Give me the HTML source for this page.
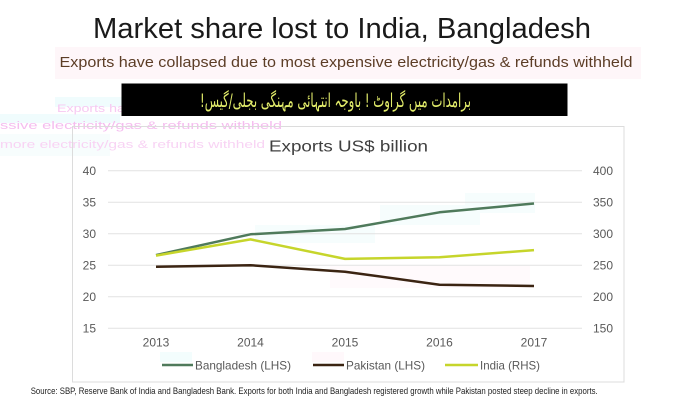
<!DOCTYPE html>
<html>
<head>
<meta charset="utf-8">
<style>
html,body{margin:0;padding:0;background:#fff;}
svg{display:block;}
text{font-family:"Liberation Sans",sans-serif;}
</style>
</head>
<body>
<svg width="700" height="400" viewBox="0 0 700 400" xmlns="http://www.w3.org/2000/svg">
<rect x="0" y="0" width="700" height="400" fill="#fff"/>

<!-- Title -->
<text x="93" y="38" font-size="29" fill="#1a1a1a" textLength="498" lengthAdjust="spacingAndGlyphs">Market share lost to India, Bangladesh</text>

<!-- subtitle band -->
<rect x="55" y="47" width="586" height="32" fill="#fef6f9"/>
<text x="59.5" y="67" font-size="15" fill="#5c3d26" textLength="573" lengthAdjust="spacingAndGlyphs">Exports have collapsed due to most expensive electricity/gas &amp; refunds withheld</text>

<!-- ghost artifacts -->
<rect x="55" y="97" width="70" height="10" fill="#f0fcfd"/>
<rect x="0" y="114" width="120" height="9" fill="#f0fcfd"/>
<rect x="0" y="134" width="110" height="22" fill="#f7fdfd"/>
<text x="57" y="112" font-size="11" fill="#f7c9f2" textLength="225" lengthAdjust="spacingAndGlyphs">Exports have collapsed due to most</text>
<text x="0" y="129" font-size="11" fill="#f5bdef" textLength="282" lengthAdjust="spacingAndGlyphs">ssive electricity/gas &amp; refunds withheld</text>
<text x="0" y="148" font-size="11" fill="#f8d3f4" textLength="265" lengthAdjust="spacingAndGlyphs">more electricity/gas &amp; refunds withheld</text>

<!-- Black Urdu box -->
<rect x="121.5" y="83.5" width="446" height="32.5" fill="#000"/>
<text x="335.5" y="107" font-size="19" fill="#e2ec6a" text-anchor="middle" direction="rtl" textLength="271" lengthAdjust="spacingAndGlyphs" style="font-family:'DejaVu Sans',sans-serif">برامدات میں گراوٹ ! باوجہ انتہائی مہنگی بجلی/گیس!</text>

<!-- Chart box -->
<rect x="72.5" y="126.5" width="551.5" height="255.5" fill="none" stroke="#dcdcdc" stroke-width="1"/>

<!-- faint highlight blobs -->
<rect x="255" y="225" width="120" height="18" fill="#f6fdfd"/>
<rect x="380" y="205" width="100" height="20" fill="#f6fdfd"/>
<rect x="465" y="193" width="70" height="20" fill="#f6fdfd"/>
<rect x="330" y="266" width="200" height="22" fill="#fffafc"/>

<!-- Chart title -->
<text x="269" y="151.7" font-size="16" fill="#404040" textLength="159" lengthAdjust="spacingAndGlyphs">Exports US$ billion</text>

<!-- Gridlines -->
<g stroke="#e2e2e2" stroke-width="1">
<line x1="108" y1="170.7" x2="582" y2="170.7"/>
<line x1="108" y1="202.2" x2="582" y2="202.2"/>
<line x1="108" y1="233.7" x2="582" y2="233.7"/>
<line x1="108" y1="265.2" x2="582" y2="265.2"/>
<line x1="108" y1="296.7" x2="582" y2="296.7"/>
<line x1="108" y1="328.2" x2="582" y2="328.2"/>
</g>

<!-- Left axis labels -->
<g font-size="12" fill="#595959" text-anchor="end">
<text x="96" y="175">40</text>
<text x="96" y="206.5">35</text>
<text x="96" y="238">30</text>
<text x="96" y="269.5">25</text>
<text x="96" y="301">20</text>
<text x="96" y="332.5">15</text>
</g>
<!-- Right axis labels -->
<g font-size="12" fill="#595959" text-anchor="start">
<text x="593" y="175">400</text>
<text x="593" y="206.5">350</text>
<text x="593" y="238">300</text>
<text x="593" y="269.5">250</text>
<text x="593" y="301">200</text>
<text x="593" y="332.5">150</text>
</g>
<!-- X labels -->
<g font-size="12" fill="#595959" text-anchor="middle">
<text x="156" y="346.5">2013</text>
<text x="250.5" y="346.5">2014</text>
<text x="345" y="346.5">2015</text>
<text x="439.5" y="346.5">2016</text>
<text x="534" y="346.5">2017</text>
</g>

<!-- Series -->
<polyline points="156,255.1 250.5,234.3 345,229.0 439.5,212.3 534,203.5" fill="none" stroke="#4f7a5b" stroke-width="2.5" stroke-linejoin="round"/>
<polyline points="156,266.8 250.5,265.2 345,271.7 439.5,284.7 534,286.0" fill="none" stroke="#3b2412" stroke-width="2.5" stroke-linejoin="round"/>
<polyline points="156,255.6 250.5,239.4 345,258.9 439.5,257.3 534,250.1" fill="none" stroke="#c6d52b" stroke-width="2.5" stroke-linejoin="round"/>

<!-- Legend -->
<rect x="160" y="352" width="32" height="10" fill="#f3fdfd"/>
<rect x="312" y="352" width="32" height="10" fill="#fff8fb"/>
<line x1="162" y1="365" x2="193" y2="365" stroke="#4f7a5b" stroke-width="2.5"/>
<text x="195" y="369.5" font-size="12" fill="#595959" textLength="96" lengthAdjust="spacingAndGlyphs">Bangladesh (LHS)</text>
<line x1="313" y1="365" x2="344" y2="365" stroke="#3b2412" stroke-width="2.5"/>
<text x="346" y="369.5" font-size="12" fill="#595959" textLength="79" lengthAdjust="spacingAndGlyphs">Pakistan (LHS)</text>
<line x1="445" y1="365" x2="478" y2="365" stroke="#c6d52b" stroke-width="2.5"/>
<text x="480" y="369.5" font-size="12" fill="#595959" textLength="60" lengthAdjust="spacingAndGlyphs">India (RHS)</text>

<!-- Source -->
<text x="30.7" y="394" font-size="9" fill="#222" textLength="567" lengthAdjust="spacingAndGlyphs">Source: SBP, Reserve Bank of India and Bangladesh Bank. Exports for both India and Bangladesh registered growth while Pakistan posted steep decline in exports.</text>
</svg>
</body>
</html>
